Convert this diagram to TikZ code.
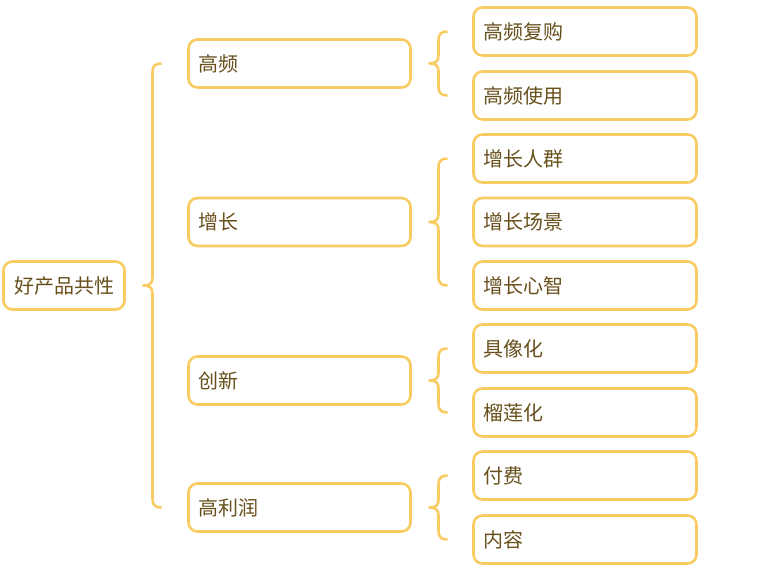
\documentclass[tikz,border=0pt]{standalone}
\usepackage{fontspec}
\newfontfamily\cjk{Noto Sans CJK SC}
\usetikzlibrary{calc}
\definecolor{edge}{RGB}{248,204,98}
\definecolor{ink}{RGB}{104,80,28}
\tikzset{
  box/.style={draw=edge,line width=2.6pt,rounded corners=9pt,fill=white,
    text=ink,font=\cjk\fontsize{20}{23}\selectfont,anchor=west,
    minimum height=48pt,inner xsep=9.5pt,outer sep=0pt,align=left},
  rootbox/.style={box,minimum width=121pt},
  midbox/.style={box,text width=203pt},
  leafbox/.style={box,text width=204pt},
  brace/.style={draw=edge,line width=2.6pt,line join=round}
}
% brace from parent to first and last child
\newcommand{\branch}[3]{%
  \draw[brace] let \p1=(#1.east), \p2=(#2.west), \p3=(#3.west) in
    (\x1+37pt,\y2) .. controls (\x1+31pt,\y2) and (\x1+28pt,\y2-2pt) .. (\x1+28pt,\y2-9pt)
    -- (\x1+28pt,\y1+8pt) .. controls (\x1+28pt,\y1+2pt) and (\x1+25pt,\y1) .. (\x1+19pt,\y1)
    .. controls (\x1+25pt,\y1) and (\x1+28pt,\y1-2pt) .. (\x1+28pt,\y1-8pt)
    -- (\x1+28pt,\y3+9pt) .. controls (\x1+28pt,\y3+2pt) and (\x1+31pt,\y3) .. (\x1+37pt,\y3);}
\begin{document}
\begin{tikzpicture}[x=1pt,y=-1pt]
    \useasboundingbox (0,0) rectangle (776,566);
    % root
    \node[rootbox] (root) at (3.5,285.5) {好产品共性};
    % level one
    \node[midbox] (gp) at (188.5,63.5) {高频};
    \node[midbox] (zz) at (188.5,222) {增长};
    \node[midbox] (cx) at (188.5,380.5) {创新};
    \node[midbox] (glr) at (188.5,507.5) {高利润};
    % level two
    \node[leafbox] (gpa) at (473.5,31.5) {高频复购};
    \node[leafbox] (gpb) at (473.5,95.5) {高频使用};
    \node[leafbox] (zza) at (473.5,158.5) {增长人群};
    \node[leafbox] (zzb) at (473.5,222) {增长场景};
    \node[leafbox] (zzc) at (473.5,285.5) {增长心智};
    \node[leafbox] (cxa) at (473.5,348.5) {具像化};
    \node[leafbox] (cxb) at (473.5,412.5) {榴莲化};
    \node[leafbox] (glra) at (473.5,475.5) {付费};
    \node[leafbox] (glrb) at (473.5,539.5) {内容};
    % braces
    \branch{root}{gp}{glr}
    \branch{gp}{gpa}{gpb}
    \branch{zz}{zza}{zzc}
    \branch{cx}{cxa}{cxb}
    \branch{glr}{glra}{glrb}
\end{tikzpicture}
\end{document}
